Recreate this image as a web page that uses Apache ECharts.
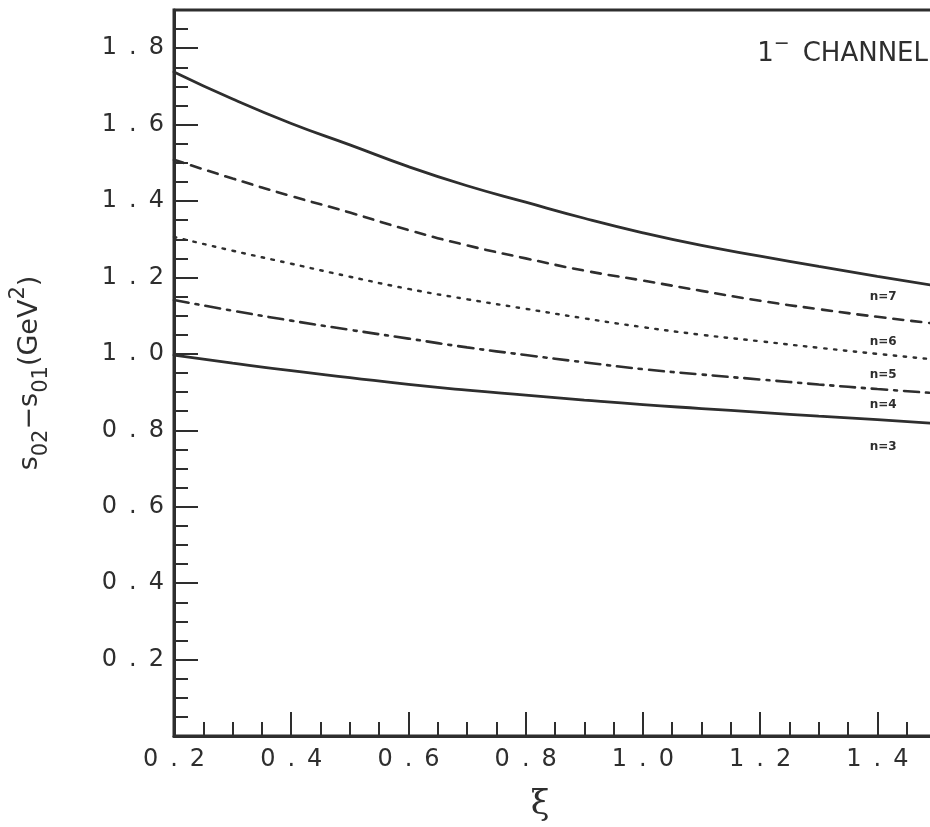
<!DOCTYPE html>
<html>
<head>
<meta charset="utf-8">
<script src="https://cdn.jsdelivr.net/npm/echarts@6/dist/echarts.min.js"></script>
<style>
  html, body { margin: 0; padding: 0; background: #fff; }
  #chart { width: 930px; height: 827px; }
</style>
</head>
<body>
<div id="chart"></div>
<script>
// xi values along the horizontal axis
const xi = [0.2, 0.3, 0.4, 0.5, 0.6, 0.7, 0.8, 0.9, 1.0, 1.1, 1.2, 1.3, 1.4, 1.5];

// s02 - s01 (GeV^2) for each moment order n
const n7 = [1.738, 1.667, 1.603, 1.547, 1.490, 1.440, 1.397, 1.355, 1.317, 1.284, 1.256, 1.229, 1.203, 1.178];
const n6 = [1.508, 1.459, 1.413, 1.370, 1.324, 1.284, 1.250, 1.218, 1.192, 1.165, 1.139, 1.117, 1.097, 1.079];
const n5 = [1.306, 1.270, 1.236, 1.202, 1.170, 1.143, 1.118, 1.093, 1.070, 1.050, 1.033, 1.016, 1.000, 0.985];
const n4 = [1.141, 1.113, 1.087, 1.063, 1.040, 1.017, 0.997, 0.978, 0.960, 0.946, 0.933, 0.920, 0.908, 0.897];
const n3 = [0.997, 0.976, 0.956, 0.938, 0.920, 0.905, 0.892, 0.879, 0.867, 0.857, 0.847, 0.837, 0.828, 0.818];

// curve labels and where they sit (xi, value)
const curveNames = ['n=7', 'n=6', 'n=5', 'n=4', 'n=3'];
const labelAt = [[1.41, 1.149], [1.41, 1.031], [1.41, 0.945], [1.41, 0.866], [1.41, 0.757]];

const INK = '#2e2e2e';
const FONT = 'DejaVu Sans';
const spaced = v => v.toFixed(1).split('').join('\u2002');

const styles = [
  { type: 'solid', width: 2.8 },
  { type: [10, 8], width: 2.6 },
  { type: [2.5, 7.5], width: 2.4 },
  { type: [15, 7, 3, 7], width: 2.6 },
  { type: 'solid', width: 2.8 }
];
const values = [n7, n6, n5, n4, n3];

const series = values.map((vals, i) => ({
  name: curveNames[i],
  type: 'line',
  smooth: true,
  showSymbol: false,
  silent: true,
  data: xi.map((x, j) => [x, vals[j]]),
  lineStyle: { color: INK, width: styles[i].width, type: styles[i].type, cap: 'round' },
  markPoint: {
    symbol: 'circle',
    symbolSize: 0,
    silent: true,
    label: {
      show: true,
      position: 'inside',
      formatter: curveNames[i],
      color: INK,
      fontFamily: FONT,
      fontWeight: 'bold',
      fontSize: 12
    },
    data: [{ coord: labelAt[i] }]
  }
}));

const chart = echarts.init(document.getElementById('chart'), null, { renderer: 'canvas' });
chart.setOption({
  backgroundColor: '#fff',
  animation: false,
  title: {
    right: -3,
    top: 30,
    text: '{a|1}{s|\u2212}{a|\u2002CHANNEL}',
    textStyle: {
      fontWeight: 'normal',
      rich: {
        a: { fontFamily: FONT, fontSize: 26, fontWeight: 'normal', color: INK, verticalAlign: 'bottom', lineHeight: 32 },
        s: { fontFamily: FONT, fontSize: 19, fontWeight: 'normal', color: INK, verticalAlign: 'top', lineHeight: 32 }
      }
    }
  },
  grid: {
    left: 174,
    top: 10,
    right: -6,
    bottom: 91,
    outerBoundsMode: 'none',
    containLabel: false,
    show: true,
    borderColor: INK,
    borderWidth: 3,
    backgroundColor: 'transparent'
  },
  xAxis: {
    type: 'value',
    min: 0.2,
    max: 1.5,
    interval: 0.2,
    name: 'ξ',
    nameLocation: 'middle',
    nameGap: 52,
    nameTextStyle: { fontFamily: 'DejaVu Serif', fontSize: 34, color: INK, padding: [0, 30, 0, 0] },
    axisLine: { show: true, onZero: false, lineStyle: { color: INK, width: 3 } },
    axisTick: { show: true, inside: true, length: 24, lineStyle: { color: INK, width: 2 } },
    minorTick: { show: true, splitNumber: 4, length: 14, lineStyle: { color: INK, width: 2 } },
    splitLine: { show: false },
    minorSplitLine: { show: false },
    axisLabel: {
      margin: 12,
      fontFamily: FONT,
      fontSize: 24,
      color: INK,
      formatter: v => spaced(v),
      showMaxLabel: false
    }
  },
  yAxis: {
    type: 'value',
    min: 0,
    max: 1.9,
    interval: 0.2,
    name: '{b|s}{d|02}{b|\u2212s}{d|01}{b|(GeV}{u|2}{b|)}',
    nameLocation: 'middle',
    nameRotate: 90,
    nameGap: 122,
    nameTextStyle: {
      rich: {
        b: { fontFamily: FONT, fontSize: 27, color: INK, verticalAlign: 'middle', lineHeight: 44 },
        d: { fontFamily: FONT, fontSize: 21, color: INK, verticalAlign: 'bottom', lineHeight: 44 },
        u: { fontFamily: FONT, fontSize: 21, color: INK, verticalAlign: 'top', lineHeight: 44 }
      }
    },
    axisLine: { show: true, lineStyle: { color: INK, width: 3 } },
    axisTick: { show: true, inside: true, length: 24, lineStyle: { color: INK, width: 2 } },
    minorTick: { show: true, splitNumber: 4, length: 14, lineStyle: { color: INK, width: 2 } },
    splitLine: { show: false },
    minorSplitLine: { show: false },
    axisLabel: {
      margin: 10,
      fontFamily: FONT,
      fontSize: 24,
      color: INK,
      showMinLabel: false,
      showMaxLabel: false,
      formatter: v => (v === 0 ? '' : spaced(v))
    }
  },
  series: series
});
</script>
</body>
</html>
